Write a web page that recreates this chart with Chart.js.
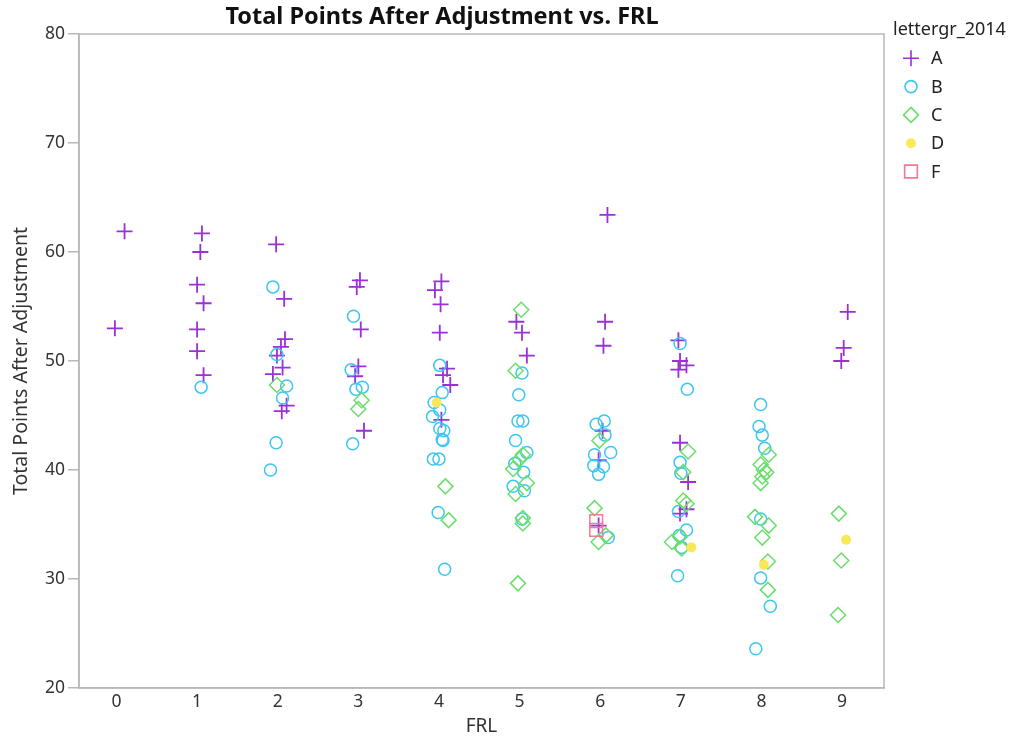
<!DOCTYPE html>
<html>
<head>
<meta charset="utf-8">
<title>Total Points After Adjustment vs. FRL</title>
<script src="https://cdn.jsdelivr.net/npm/chart.js@4/dist/chart.umd.min.js"></script>
<style>
  html, body { margin: 0; padding: 0; background: #fff; }
  #wrap { width: 1012px; height: 742px; }
</style>
</head>
<body>
<div id="wrap"><canvas id="scatterChart" width="1012" height="742"></canvas></div>
<script>
// FRL categories (x ticks) and y ticks
var frlTicks = [0, 1, 2, 3, 4, 5, 6, 7, 8, 9];
var pointTicks = [20, 30, 40, 50, 60, 70, 80];

// [FRL with jitter, total points], per letter grade
var gradeA = [
  [0.10, 61.9], [-0.02, 53.0],
  [1.06, 61.7], [1.04, 60.0], [1.00, 57.0], [1.08, 55.3], [1.00, 52.9], [1.00, 50.9], [1.08, 48.7],
  [1.98, 60.7], [2.08, 55.7], [2.09, 52.0], [2.04, 51.3], [1.99, 50.5], [2.06, 49.4], [1.94, 48.8], [2.11, 45.9], [2.05, 45.4],
  [3.02, 57.4], [2.98, 56.8], [3.03, 52.9], [3.00, 49.5], [2.96, 48.6], [3.07, 43.6],
  [4.03, 57.3], [3.95, 56.5], [4.02, 55.2], [4.01, 52.6], [4.10, 49.3], [4.05, 48.7], [4.14, 47.8], [4.03, 44.6],
  [4.96, 53.6], [5.03, 52.6], [5.09, 50.5],
  [6.09, 63.4], [6.06, 53.6], [6.04, 51.4], [6.03, 43.6], [5.98, 40.9], [5.98, 34.9],
  [6.97, 51.9], [6.99, 50.0], [7.07, 49.6], [6.97, 49.2], [6.99, 42.5], [7.09, 38.9], [7.07, 36.4], [6.99, 36.0],
  [9.07, 54.5], [9.02, 51.2], [8.99, 50.0]
];
var gradeB = [
  [1.05, 47.6],
  [1.94, 56.8], [1.99, 50.6], [2.11, 47.7], [2.06, 46.6], [1.98, 42.5], [1.91, 40.0],
  [2.94, 54.1], [2.91, 49.2], [3.05, 47.6], [2.97, 47.4], [2.93, 42.4],
  [4.01, 49.6], [4.04, 47.1], [3.94, 46.2], [4.01, 45.5], [3.92, 44.9], [4.01, 43.8], [4.06, 43.6], [4.04, 42.8], [4.05, 42.7],
  [3.93, 41.0], [4.00, 41.0], [3.99, 36.1], [4.07, 30.9],
  [5.03, 48.9], [4.99, 46.9], [4.98, 44.5], [5.04, 44.5], [4.95, 42.7], [5.09, 41.6], [4.94, 40.6], [5.05, 39.8],
  [4.92, 38.5], [5.06, 38.1], [5.03, 35.5],
  [6.05, 44.5], [5.95, 44.2], [6.06, 43.2], [6.13, 41.6], [5.93, 41.4], [5.92, 40.4], [6.04, 40.3], [5.98, 39.6], [6.10, 33.8],
  [6.99, 51.6], [7.08, 47.4], [6.99, 40.7], [7.00, 39.7], [6.97, 36.2], [7.07, 34.5], [6.98, 34.0], [7.01, 32.9], [6.96, 30.3],
  [7.99, 46.0], [7.97, 44.0], [8.01, 43.2], [8.04, 42.0], [7.99, 35.5], [7.99, 30.1], [8.11, 27.5], [7.93, 23.6]
];
var gradeC = [
  [1.99, 47.8],
  [3.04, 46.4], [3.00, 45.6],
  [4.08, 38.5], [4.12, 35.4],
  [5.02, 54.7], [4.95, 49.1], [5.04, 41.4], [5.00, 41.0], [4.92, 40.1], [5.09, 38.8], [4.95, 37.8], [5.04, 35.6], [5.04, 35.1], [4.98, 29.6],
  [5.99, 42.7], [5.93, 36.5], [6.07, 34.0], [5.98, 33.4],
  [7.09, 41.7], [7.03, 39.8], [7.03, 37.2], [7.07, 36.9], [6.99, 33.9], [6.89, 33.4], [7.01, 32.8],
  [8.09, 41.4], [7.99, 40.5], [8.03, 40.0], [8.06, 39.8], [8.01, 39.4], [7.99, 38.8], [7.92, 35.7], [8.09, 34.9],
  [8.01, 33.8], [8.08, 31.6], [8.08, 29.0],
  [8.96, 36.0], [8.99, 31.7], [8.95, 26.7]
];
var gradeD = [
  [3.97, 46.2], [7.13, 32.9], [8.03, 31.3], [9.05, 33.6]
];
var gradeF = [
  [5.95, 35.3], [5.95, 34.5]
];

var gradeNames = ['A', 'B', 'C', 'D', 'F'];
var gradeColors = ['#9b30d8', '#3cc6f2', '#6ade6a', '#f8e85a', '#f27896'];
var gradeStyles = ['cross', 'circle', 'rectRot', 'circle', 'rect'];
var gradeData = [gradeA, gradeB, gradeC, gradeD, gradeF];
var markerSizes = [8, 6, 7.5, 5, 9];

function toXY(list) {
  return list.map(function (p) { return { x: p[0], y: p[1] }; });
}

var datasets = gradeNames.map(function (name, i) {
  var filled = name === 'D';
  return {
    label: name,
    data: toXY(gradeData[i]),
    pointStyle: gradeStyles[i],
    pointRadius: markerSizes[i],
    pointHoverRadius: markerSizes[i],
    borderColor: gradeColors[i],
    backgroundColor: filled ? gradeColors[i] : 'rgba(0,0,0,0)',
    pointBorderWidth: filled ? 0 : (name === 'A' ? 1.8 : 1.5),
    order: 5 - i
  };
});

// plot frame on all four sides
var framePlugin = {
  id: 'frame',
  afterDraw: function (chart) {
    var a = chart.chartArea, ctx = chart.ctx;
    ctx.save();
    ctx.strokeStyle = '#b8b8b8';
    ctx.lineWidth = 1.5;
    ctx.strokeRect(a.left, a.top, a.right - a.left, a.bottom - a.top);
    ctx.restore();
  }
};

function marker(ctx, style, x, y, r) {
  ctx.beginPath();
  if (style === 'cross') {
    ctx.moveTo(x - r, y); ctx.lineTo(x + r, y);
    ctx.moveTo(x, y - r); ctx.lineTo(x, y + r);
  } else if (style === 'circle') {
    ctx.arc(x, y, r, 0, Math.PI * 2);
  } else if (style === 'rectRot') {
    ctx.moveTo(x, y - r); ctx.lineTo(x + r, y); ctx.lineTo(x, y + r); ctx.lineTo(x - r, y); ctx.closePath();
  } else {
    ctx.rect(x - r * 0.707, y - r * 0.707, r * 1.414, r * 1.414);
  }
}

// legend drawn at the right like the JMP one
var legendPlugin = {
  id: 'gradeLegend',
  afterDraw: function (chart) {
    var ctx = chart.ctx;
    var left = chart.chartArea.right + 9;
    ctx.save();
    ctx.font = '18px "Noto Sans"';
    ctx.fillStyle = '#222';
    ctx.textBaseline = 'middle';
    ctx.textAlign = 'left';
    ctx.fillText('lettergr_2014', left, 30);
    chart.data.datasets.forEach(function (ds, i) {
      var y = 58.3 + i * 28.3;
      ctx.strokeStyle = ds.borderColor;
      ctx.fillStyle = ds.backgroundColor;
      ctx.lineWidth = 1.6;
      marker(ctx, ds.pointStyle, left + 18, y, markerSizes[i]);
      if (ds.label === 'D') ctx.fill(); else ctx.stroke();
      ctx.fillStyle = '#222';
      ctx.fillText(ds.label, left + 38, y + 1);
    });
    ctx.restore();
  }
};

var ctx = document.getElementById('scatterChart').getContext('2d');
var scatterChart = new Chart(ctx, {
  type: 'scatter',
  data: { datasets: datasets },
  options: {
    responsive: false,
    animation: false,
    layout: { padding: { left: 0, right: 128, top: 0, bottom: 0 } },
    plugins: {
      legend: { display: false },
      tooltip: { enabled: false },
      title: {
        display: true,
        text: 'Total Points After Adjustment vs. FRL',
        color: '#111',
        font: { family: '"Noto Sans"', size: 23.5, weight: 'bold' },
        padding: { top: 3, bottom: 2.8 }
      }
    },
    scales: {
      x: {
        type: 'linear',
        min: -0.465,
        max: 9.52,
        afterBuildTicks: function (scale) {
          scale.ticks = frlTicks.map(function (v) { return { value: v }; });
        },
        afterFit: function (scale) { scale.height = 54; },
        grid: { display: false, drawTicks: false },
        border: { display: true, color: '#b8b8b8', width: 1.5 },
        ticks: { color: '#333', padding: 4, font: { family: '"Noto Sans"', size: 17.5 } },
        title: {
          display: true, text: 'FRL', color: '#333',
          font: { family: '"Noto Sans"', size: 19 },
          padding: { top: 0, bottom: 4.5 }
        }
      },
      y: {
        min: 20,
        max: 80,
        afterBuildTicks: function (scale) {
          scale.ticks = pointTicks.map(function (v) { return { value: v }; });
        },
        afterFit: function (scale) { scale.width = 79; },
        grid: { drawOnChartArea: false, drawTicks: true, tickLength: 11, color: '#b8b8b8', lineWidth: 1.5 },
        border: { display: true, color: '#b8b8b8', width: 1.5 },
        ticks: { color: '#333', padding: 3, font: { family: '"Noto Sans"', size: 17.5 } },
        title: {
          display: true, text: 'Total Points After Adjustment', color: '#333',
          font: { family: '"Noto Sans"', size: 19.5 },
          padding: { top: 9.5, bottom: 0 }
        }
      }
    }
  },
  plugins: [framePlugin, legendPlugin]
});
</script>
</body>
</html>
